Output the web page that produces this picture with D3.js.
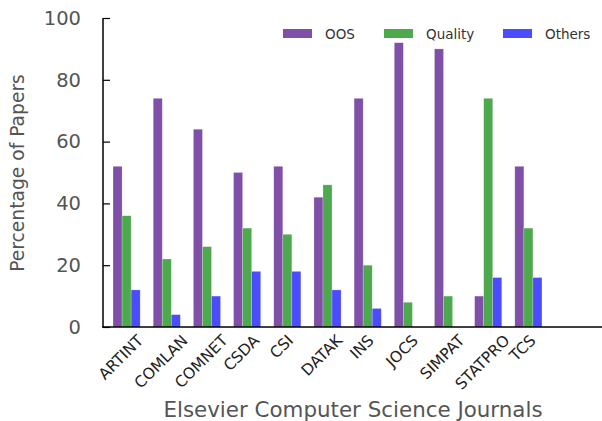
<!DOCTYPE html>
<html>
  <head>
    <meta charset="utf-8" />
    <title>Elsevier journals</title>
    <script src="https://d3js.org/d3.v7.min.js"></script>
    <style>
      body { margin: 0; background: #fff; }
      svg text { font-family: "DejaVu Sans", sans-serif; }
    </style>
  </head>
  <body>

    <svg id="chart" width="602" height="421"></svg>

    <script>

        var journals = ["ARTINT", "COMLAN", "COMNET", "CSDA", "CSI", "DATAK", "INS", "JOCS", "SIMPAT", "STATPRO", "TCS"];
        var oos      = [52, 74, 64, 50, 52, 42, 74, 92, 90, 10, 52];
        var quality  = [36, 22, 26, 32, 30, 46, 20, 8, 10, 74, 32];
        var others   = [12, 4, 10, 18, 18, 12, 6, 0, 0, 16, 16];
        var yTicks   = [0, 20, 40, 60, 80, 100];

        var series = [
            { name: "OOS", values: oos, color: "#8050a8" },
            { name: "Quality", values: quality, color: "#4ea84e" },
            { name: "Others", values: others, color: "#4c4cff" }
        ];

        var svg = d3.select("#chart");
        var barW = 0.225;

        var x = d3.scaleLinear().domain([-0.25, 12.12]).range([103, 600]);
        var y = d3.scaleLinear().domain([0, 100]).range([327, 18]);

        // bars
        series.forEach(function(s, k) {
            svg.append("g").selectAll("rect")
              .data(s.values)
              .enter().append("rect")
              .attr("x", function(d, i) { return x(i + k * barW); })
              .attr("width", x(barW) - x(0))
              .attr("y", function(d) { return y(d); })
              .attr("height", function(d) { return y(0) - y(d); })
              .attr("fill", s.color)
              .attr("stroke", "#fff")
              .attr("stroke-opacity", 0.35)
              .attr("stroke-width", 0.6);
        });

        // y axis, ticks inside
        var yAxis = d3.axisLeft(y).tickValues(yTicks).tickSize(-7).tickPadding(22);
        var gy = svg.append("g").attr("transform", "translate(103,0)").call(yAxis);
        gy.select(".domain").attr("stroke", "#000").attr("stroke-width", 1.5)
          .attr("d", "M0," + y(100) + "V" + y(0));
        gy.selectAll(".tick line").attr("stroke", "#000").attr("stroke-width", 1.2);
        gy.selectAll(".tick text")
          .attr("fill", "#555")
          .style("font-size", "19.5px");

        // x axis line
        svg.append("line")
          .attr("x1", 102).attr("x2", 602)
          .attr("y1", y(0)).attr("y2", y(0))
          .attr("stroke", "#000").attr("stroke-width", 1.5);

        // rotated journal labels, top of each label near y=338
        var labels = svg.append("g").selectAll("text")
          .data(journals)
          .enter().append("text")
          .text(function(d) { return d; })
          .attr("fill", "#222")
          .attr("text-anchor", "middle")
          .attr("dominant-baseline", "central")
          .style("font-size", "15.5px");

        labels.each(function(d, i) {
            var w = this.getComputedTextLength();
            var h = 11;
            var cx = x(i) + 8;
            var cy = 334 + (w + h) / (2 * Math.SQRT2);
            d3.select(this)
              .attr("x", cx).attr("y", cy)
              .attr("transform", "rotate(-45," + cx + "," + cy + ")");
        });

        // axis titles
        svg.append("text")
          .attr("x", 353).attr("y", 417)
          .attr("text-anchor", "middle")
          .attr("fill", "#555")
          .style("font-size", "21.4px")
          .text("Elsevier Computer Science Journals");

        svg.append("text")
          .attr("transform", "translate(24,173) rotate(-90)")
          .attr("text-anchor", "middle")
          .attr("fill", "#555")
          .style("font-size", "18.7px")
          .text("Percentage of Papers");

        // legend
        var legendX = [283, 384, 503];
        var legend = svg.append("g").selectAll("g")
          .data(series)
          .enter().append("g")
          .attr("transform", function(d, i) { return "translate(" + legendX[i] + ",29)"; });

        legend.append("rect")
          .attr("width", 29).attr("height", 9)
          .attr("fill", function(d) { return d.color; });

        legend.append("text")
          .attr("x", 42).attr("y", 9.5)
          .attr("fill", "#333")
          .style("font-size", "13.5px")
          .text(function(d) { return d.name; });

    </script>

  </body>
</html>
